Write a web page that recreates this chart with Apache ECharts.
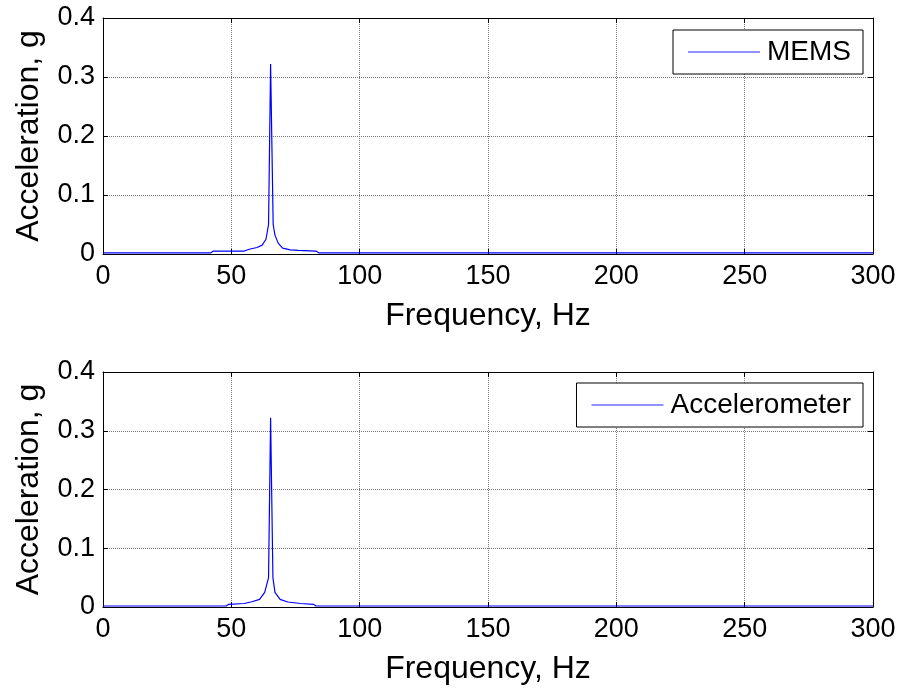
<!DOCTYPE html>
<html>
<head>
<meta charset="utf-8">
<script src="https://cdn.jsdelivr.net/npm/echarts@6/dist/echarts.min.js"></script>
<style>
html,body{margin:0;padding:0;background:#fff;}
#chart{width:903px;height:690px;}
</style>
</head>
<body>
<div id="chart"></div>
<script>
// Data
const xTicks = [0, 50, 100, 150, 200, 250, 300];
const yTicks = [0, 0.1, 0.2, 0.3, 0.4];

const memsFreq = [0, 42, 43, 55, 57, 60, 62, 63.5, 64.5, 65.3, 66.3, 67, 68.3, 70, 73, 76, 83, 84, 300];
const memsAcc  = [0.002, 0.002, 0.005, 0.005, 0.008, 0.011, 0.015, 0.025, 0.05, 0.322, 0.05, 0.032, 0.018, 0.010, 0.007, 0.006, 0.005, 0.002, 0.002];

const accFreq = [0, 48, 49, 55, 58, 61, 63, 64.5, 65.3, 66.2, 67, 69, 72, 77, 82, 83, 300];
const accAcc  = [0.0017, 0.0017, 0.0045, 0.006, 0.009, 0.013, 0.025, 0.05, 0.322, 0.05, 0.025, 0.013, 0.0085, 0.006, 0.0045, 0.0017, 0.0017];

const seriesNames = ['MEMS', 'Accelerometer'];
const xTitle = 'Frequency, Hz';
const yTitle = 'Acceleration, g';

const FONT = '"Liberation Sans", Arial, sans-serif';
const pairs = (xs, ys) => xs.map((x, i) => [x, ys[i]]);

const xMin = xTicks[0], xMax = xTicks[xTicks.length - 1], xInt = xTicks[1] - xTicks[0];
const yMin = yTicks[0], yMax = yTicks[yTicks.length - 1], yInt = 0.1;

function mainX(gridIndex) {
  return {
    type: 'value', gridIndex, min: xMin, max: xMax, interval: xInt, position: 'bottom',
    name: xTitle, nameLocation: 'middle', nameGap: 46,
    nameTextStyle: { fontFamily: FONT, fontSize: 32, color: '#000' },
    axisLine: { show: true, onZero: false, lineStyle: { color: '#000', width: 1 } },
    axisTick: { show: true, inside: true, length: 5, lineStyle: { color: '#000' } },
    axisLabel: { fontFamily: FONT, fontSize: 27, color: '#000', margin: 9 },
    splitLine: { show: true, lineStyle: { color: '#777', type: 'dotted', width: 1 } }
  };
}
function topX(gridIndex) {
  return {
    type: 'value', gridIndex, min: xMin, max: xMax, interval: xInt, position: 'top',
    axisLine: { show: true, onZero: false, lineStyle: { color: '#000', width: 1 } },
    axisTick: { show: true, inside: true, length: 5, lineStyle: { color: '#000' } },
    axisLabel: { show: false }, splitLine: { show: false }
  };
}
function mainY(gridIndex) {
  return {
    type: 'value', gridIndex, min: yMin, max: yMax, interval: yInt, position: 'left',
    name: yTitle, nameLocation: 'middle', nameGap: 58, nameRotate: 90,
    nameTextStyle: { fontFamily: FONT, fontSize: 32, color: '#000' },
    axisLine: { show: true, onZero: false, lineStyle: { color: '#000', width: 1 } },
    axisTick: { show: true, inside: true, length: 5, lineStyle: { color: '#000' } },
    axisLabel: { fontFamily: FONT, fontSize: 27, color: '#000', margin: 8 },
    splitLine: { show: true, lineStyle: { color: '#777', type: 'dotted', width: 1 } }
  };
}
function rightY(gridIndex) {
  return {
    type: 'value', gridIndex, min: yMin, max: yMax, interval: yInt, position: 'right',
    axisLine: { show: true, onZero: false, lineStyle: { color: '#000', width: 1 } },
    axisTick: { show: true, inside: true, length: 5, lineStyle: { color: '#000' } },
    axisLabel: { show: false }, splitLine: { show: false }
  };
}
function legend(name, top) {
  return {
    data: [name], right: 40, top, orient: 'horizontal',
    icon: 'rect', itemWidth: 72, itemHeight: 1.5, itemGap: 0,
    backgroundColor: '#fff', borderColor: '#000', borderWidth: 1, borderRadius: 0,
    padding: [8, 12, 8, 15],
    itemStyle: { color: '#6b6bff' },
    textStyle: { fontFamily: FONT, fontSize: 28, color: '#000', padding: [0, 0, 0, 2] }
  };
}

const chart = echarts.init(document.getElementById('chart'), null, { renderer: 'canvas' });
chart.setOption({
  animation: false,
  backgroundColor: '#fff',
  grid: [
    { left: 103, right: 30, top: 18, height: 236, show: false },
    { left: 103, right: 30, top: 372, height: 235, show: false }
  ],
  xAxis: [mainX(0), topX(0), mainX(1), topX(1)],
  yAxis: [mainY(0), rightY(0), mainY(1), rightY(1)],
  legend: [legend(seriesNames[0], 30), legend(seriesNames[1], 383)],
  series: [
    {
      name: seriesNames[0], type: 'line', xAxisIndex: 0, yAxisIndex: 0,
      data: pairs(memsFreq, memsAcc), symbol: 'none', showSymbol: false,
      lineStyle: { color: '#0000ff', width: 1.2 }, itemStyle: { color: '#0000ff' }
    },
    {
      name: seriesNames[1], type: 'line', xAxisIndex: 2, yAxisIndex: 2,
      data: pairs(accFreq, accAcc), symbol: 'none', showSymbol: false,
      lineStyle: { color: '#0000ff', width: 1.2 }, itemStyle: { color: '#0000ff' }
    }
  ]
});
</script>
</body>
</html>
